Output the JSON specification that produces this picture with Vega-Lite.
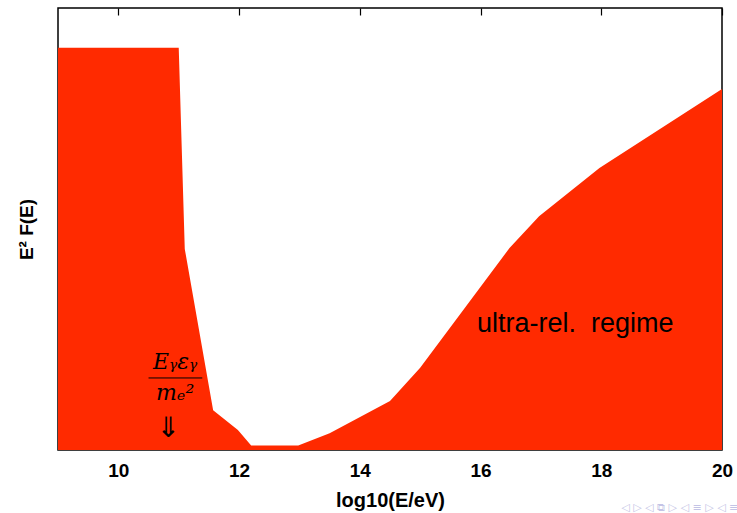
{
  "$schema": "https://vega.github.io/schema/vega-lite/v6.json",
  "width": 664,
  "height": 442,
  "autosize": "none",
  "padding": {"left": 58, "top": 8, "right": 15, "bottom": 63},
  "background": "white",
  "config": {"view": {"stroke": "black", "strokeWidth": 1.5}, "font": "Liberation Sans"},
  "datasets": {
    "spectrum": [
      {"logE": 9.0, "flux": 91.0},
      {"logE": 11.0, "flux": 91.0},
      {"logE": 11.1, "flux": 45.5},
      {"logE": 11.57, "flux": 9.0},
      {"logE": 11.98, "flux": 4.5},
      {"logE": 12.2, "flux": 1.0},
      {"logE": 12.98, "flux": 1.0},
      {"logE": 13.5, "flux": 3.8},
      {"logE": 14.5, "flux": 11.1},
      {"logE": 15.0, "flux": 18.6},
      {"logE": 16.48, "flux": 45.7},
      {"logE": 16.97, "flux": 52.9},
      {"logE": 17.97, "flux": 63.8},
      {"logE": 20.0, "flux": 81.7}
    ],
    "notes": [
      {"logE": 17.57, "flux": 28.5, "label": "ultra-rel.\u00a0 regime"}
    ],
    "formula": [
      {"logE": 10.94, "flux": 19.9, "label": "Eᵧεᵧ"},
      {"logE": 10.94, "flux": 12.9, "label": "mₑ²"}
    ],
    "arrow": [
      {"logE": 10.83, "flux": 4.8, "label": "⇓"}
    ],
    "bar": [
      {"x1": 10.5, "x2": 11.39, "flux": 16.3}
    ],
    "nav": [
      {"logE": 19.3, "flux": -13.2, "label": "◁ ▷ ◁ ⧉ ▷ ◁ ≡ ▷ ◁ ≡"}
    ]
  },
  "layer": [
    {
      "data": {"name": "spectrum"},
      "mark": {"type": "area", "color": "#ff2a00", "clip": true},
      "encoding": {
        "x": {
          "field": "logE", "type": "quantitative",
          "scale": {"domain": [9, 20], "nice": false, "zero": false},
          "axis": {
            "orient": "bottom", "values": [10, 12, 14, 16, 18, 20],
            "ticks": false, "domain": false, "grid": false,
            "labelFont": "Liberation Sans", "labelFontWeight": "bold", "labelFontSize": 19,
            "labelColor": "black", "labelPadding": 11, "labelFlush": false,
            "title": "log10(E/eV)", "titleFont": "Liberation Sans", "titleFontSize": 20,
            "titleFontWeight": "bold", "titleColor": "black", "titlePadding": 10
          }
        },
        "y": {
          "field": "flux", "type": "quantitative",
          "scale": {"domain": [0, 100], "nice": false},
          "axis": {
            "labels": false, "ticks": false, "domain": false, "grid": false,
            "title": "E² F(E)", "titleFont": "Liberation Sans", "titleFontSize": 19,
            "titleFontWeight": "bold", "titleColor": "black", "titlePadding": 22
          }
        }
      }
    },
    {
      "data": {"name": "spectrum"},
      "mark": {"type": "point", "opacity": 0},
      "encoding": {
        "x": {
          "field": "logE", "type": "quantitative",
          "axis": {
            "orient": "top", "values": [10, 12, 14, 16, 18, 20],
            "labels": false, "domain": false, "grid": false,
            "tickSize": -7, "tickColor": "black", "tickWidth": 1.2, "title": null
          }
        },
        "y": {"field": "flux", "type": "quantitative"}
      }
    },
    {
      "data": {"name": "notes"},
      "mark": {"type": "text", "font": "Liberation Sans", "fontSize": 27, "color": "black", "align": "center", "baseline": "middle"},
      "encoding": {
        "x": {"field": "logE", "type": "quantitative", "axis": null},
        "y": {"field": "flux", "type": "quantitative"},
        "text": {"field": "label"}
      }
    },
    {
      "data": {"name": "formula"},
      "mark": {"type": "text", "font": "DejaVu Serif", "fontStyle": "italic", "fontSize": 22, "color": "black", "align": "center", "baseline": "middle"},
      "encoding": {
        "x": {"field": "logE", "type": "quantitative", "axis": null},
        "y": {"field": "flux", "type": "quantitative"},
        "text": {"field": "label"}
      }
    },
    {
      "data": {"name": "arrow"},
      "mark": {"type": "text", "font": "DejaVu Sans", "fontSize": 28, "color": "black", "align": "center", "baseline": "middle"},
      "encoding": {
        "x": {"field": "logE", "type": "quantitative", "axis": null},
        "y": {"field": "flux", "type": "quantitative"},
        "text": {"field": "label"}
      }
    },
    {
      "data": {"name": "bar"},
      "mark": {"type": "rule", "color": "black", "strokeWidth": 1},
      "encoding": {
        "x": {"field": "x1", "type": "quantitative", "axis": null},
        "x2": {"field": "x2"},
        "y": {"field": "flux", "type": "quantitative"}
      }
    },
    {
      "data": {"name": "nav"},
      "mark": {"type": "text", "font": "DejaVu Sans", "fontSize": 11, "color": "#c4c4e6", "align": "center", "baseline": "middle"},
      "encoding": {
        "x": {"field": "logE", "type": "quantitative", "axis": null},
        "y": {"field": "flux", "type": "quantitative"},
        "text": {"field": "label"}
      }
    }
  ],
  "resolve": {"axis": {"x": "independent"}}
}
